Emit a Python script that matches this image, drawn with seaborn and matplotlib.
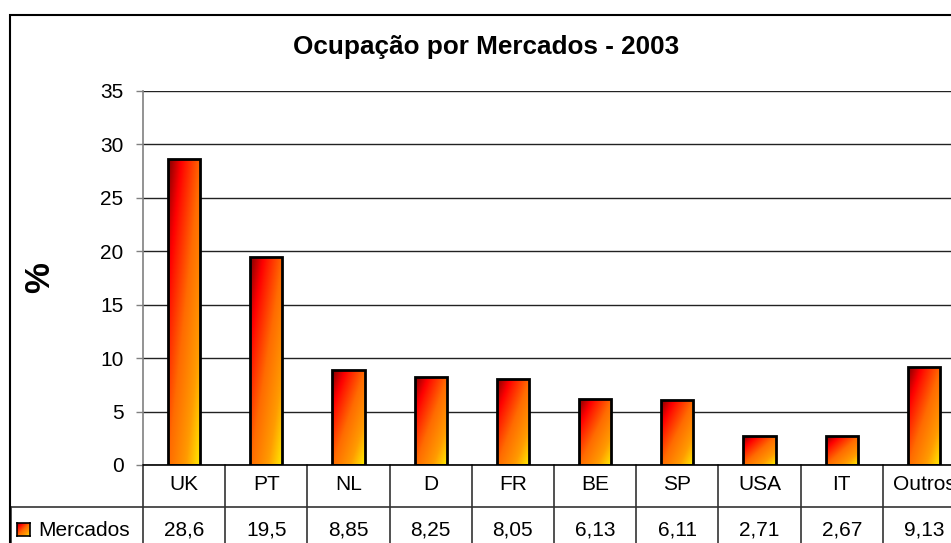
import numpy as np
import seaborn as sns
import matplotlib.pyplot as plt
from matplotlib.colors import LinearSegmentedColormap
from matplotlib.patches import Rectangle

# Data
mercados = ['UK', 'PT', 'NL', 'D', 'FR', 'BE', 'SP', 'USA', 'IT', 'Outros']
ocupacao = [28.6, 19.5, 8.85, 8.25, 8.05, 6.13, 6.11, 2.71, 2.67, 9.13]
serie = 'Mercados'
titulo = 'Ocupação por Mercados - 2003'

sns.set_style('white')
plt.rcParams['font.family'] = ['Liberation Sans', 'DejaVu Sans']
plt.rcParams['text.color'] = 'black'
plt.rcParams['ytick.labelcolor'] = 'black'

W, H = 951, 543
fig = plt.figure(figsize=(W / 100, H / 100), dpi=100)

# plot area in pixels: x 143..965, y 91..465
x0, x1, ytop, ybot = 143, 965, 91, 465
ax = fig.add_axes([x0 / W, 1 - ybot / H, (x1 - x0) / W, (ybot - ytop) / H])

# Excel-like diagonal fill: dark red top-left -> yellow bottom-right
grad_cmap = LinearSegmentedColormap.from_list(
    'excel', [(0.0, '#800000'), (0.2, '#ff0000'), (0.5, '#ff6a00'),
              (0.78, '#ff9c00'), (1.0, '#ffee00')])
n = 64
uu, vv = np.meshgrid(np.linspace(0, 1, n), np.linspace(0, 1, n))
grad = (uu + vv) / 2

sns.barplot(x=mercados, y=ocupacao, ax=ax, width=0.39, color='red',
            edgecolor='black', linewidth=2, zorder=3)

for p in ax.patches:
    bx, by, bw, bh = p.get_x(), p.get_y(), p.get_width(), p.get_height()
    im = ax.imshow(grad, cmap=grad_cmap, extent=[bx, bx + bw, by, by + bh],
                   origin='upper', aspect='auto', zorder=3)
    im.set_clip_path(p)
    p.set_facecolor('none')
    p.set_zorder(4)

ax.set_xlim(-0.5, len(mercados) - 0.5)
ax.set_ylim(0, 35)
ax.set_yticks(range(0, 36, 5))
ax.yaxis.grid(True, color='#222222', linewidth=1)
ax.set_axisbelow(True)
ax.set_xticks([])
ax.set_xlabel('')
ax.set_ylabel('')
for s in ['top', 'right', 'bottom']:
    ax.spines[s].set_visible(False)
ax.spines['left'].set_color('#808080')
ax.spines['left'].set_linewidth(1.2)
ax.tick_params(axis='y', left=True, length=5, width=1, color='#808080',
               labelsize=15, pad=9)

fig.text(40 / W, 1 - 278 / H, '%', ha='center', va='center', rotation=90,
         fontsize=25, fontweight='bold')
fig.text(486 / W, 1 - 47 / H, titulo, ha='center', va='center',
         fontsize=18.8, fontweight='bold')

# data table under the axis
px = (ybot - ytop)  # axes height in px
row1 = -(507 - ybot) / px
rowb = -(560 - ybot) / px
trans = ax.get_xaxis_transform()
ax.plot([-0.5, len(mercados) - 0.5], [0, 0], color='black', lw=1.2,
        transform=trans, clip_on=False, zorder=5)
left_col = -0.5 - (x0 - 11) / ((x1 - x0) / len(mercados))
ax.plot([left_col, len(mercados) - 0.5], [row1, row1], color='#333333',
        lw=1.2, transform=trans, clip_on=False)
ax.plot([left_col, left_col], [row1, rowb], color='#333333', lw=1.2,
        transform=trans, clip_on=False)
for k in range(len(mercados) + 1):
    ax.plot([k - 0.5, k - 0.5], [0, rowb], color='#333333', lw=1.2,
            transform=trans, clip_on=False)
for i, (m, v) in enumerate(zip(mercados, ocupacao)):
    ax.text(i, -(484 - ybot) / px, m, ha='center', va='center',
            fontsize=15, transform=trans)
    ax.text(i, -(530 - ybot) / px, str(v).replace('.', ','), ha='center',
            va='center', fontsize=15, transform=trans)

# legend key + series name
fig.text(38 / W, 1 - 530 / H, serie, ha='left', va='center', fontsize=15)
kax = fig.add_axes([17 / W, 1 - 536 / H, 13 / W, 13 / H])
kax.imshow(grad, cmap=grad_cmap, origin='upper', aspect='auto')
kax.set_xticks([])
kax.set_yticks([])
for s in kax.spines.values():
    s.set_color('black')
    s.set_linewidth(1.2)

# chart frame
fig.patches.append(Rectangle((10 / W, -0.1), 1.2, 1 - 15 / H + 0.1,
                             transform=fig.transFigure, fill=False,
                             edgecolor='black', linewidth=1.5))

fig.savefig('out.png', dpi=100)
